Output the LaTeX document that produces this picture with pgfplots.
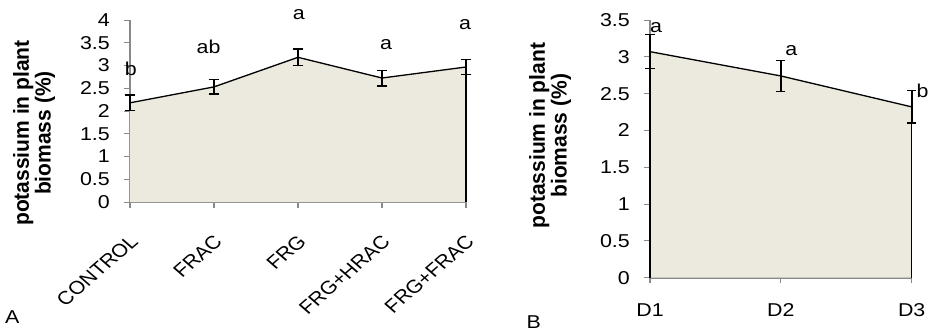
\documentclass[border=0pt]{standalone}
\usepackage{pgfplots}
\pgfplotsset{compat=1.18}
\usepackage{fontspec}
\setmainfont{Liberation Sans}
\definecolor{areafill}{RGB}{236,233,223}
\definecolor{axisgray}{RGB}{137,137,137}
\pgfplotsset{
  kstyle/.style={
    scale only axis, axis lines=left, anchor=south west, clip=false,
    axis line style={axisgray, line width=1.6pt, -},
    tick style={axisgray, line width=0.9pt},
    tick align=outside, major tick length=5.5pt,
    /pgf/number format/assume math mode=true,
    tick label style={font=\fontsize{18.6}{20}\selectfont, text=black},
  }
}
\begin{document}
\begin{tikzpicture}[x=1pt,y=1pt]
\begin{scope}[transform canvas={xscale=1.15}]
% ---------- panel A ----------
\begin{axis}[kstyle,
  at={(113.04pt,131pt)}, width=292.17pt, height=182pt,
  xmin=0, xmax=4, ymin=0, ymax=4,
  xtick={0,1,2,3,4},
  xticklabels={CONTROL,FRAC,FRG,FRG+HRAC,FRG+FRAC},
  ytick={0,0.5,1,1.5,2,2.5,3,3.5,4},
  yticklabel style={anchor=east, inner sep=0pt, xshift=-11.9pt},
  xticklabel style={xshift=-1pt, yshift=-25.8pt, rotate=45, anchor=north east, inner sep=0pt},
  ylabel={potassium in plant\\biomass (\%)},
  every axis y label/.style={at={(axis description cs:-0.2856,0.379)}, rotate=90, yscale=0.9, anchor=center, align=center, font=\bfseries\fontsize{21}{21}\selectfont},
]
\addplot[fill=areafill, draw=none] coordinates {(0,2.18) (1,2.53) (2,3.18) (3,2.725) (4,2.967)} \closedcycle;
\addplot[black, line width=1.2pt] coordinates {(4,0) (4,2.967)};
\addplot[black, line width=1.3pt, mark=none,
  error bars/.cd, y dir=both, y explicit,
  error bar style={black, line width=1.5pt},
  error mark options={rotate=90, black, mark size=4.6pt, line width=1.5pt}]
  coordinates {(0,2.18) +- (0,0.17) (1,2.53) +- (0,0.16) (2,3.18) +- (0,0.18) (3,2.725) +- (0,0.17) (4,2.967) +- (0,0.16)};
\node[font=\fontsize{18.6}{20}\selectfont] at (axis cs:0.01,2.92) {b};
\node[font=\fontsize{18.6}{20}\selectfont] at (axis cs:0.935,3.41) {ab};
\node[font=\fontsize{18.6}{20}\selectfont] at (axis cs:2.01,4.127) {a};
\node[font=\fontsize{18.6}{20}\selectfont] at (axis cs:3.05,3.47) {a};
\node[font=\fontsize{18.6}{20}\selectfont] at (axis cs:3.99,3.89) {a};
\end{axis}
% ---------- panel B ----------
\begin{axis}[kstyle,
  at={(565.22pt,55.3pt)}, width=227.57pt, height=257.7pt,
  xmin=0, xmax=2, ymin=0, ymax=3.5,
  xtick={0,1,2},
  xticklabels={D1,D2,D3},
  ytick={0,0.5,1,1.5,2,2.5,3,3.5},
  yticklabel style={anchor=east, inner sep=0pt, xshift=-11.9pt},
  xticklabel style={anchor=north, inner sep=0pt, yshift=-20.3pt},
  ylabel={potassium in plant\\biomass (\%)},
  every axis y label/.style={at={(axis description cs:-0.382,0.551)}, rotate=90, yscale=0.9, anchor=center, align=center, font=\bfseries\fontsize{21}{21}\selectfont},
]
\addplot[fill=areafill, draw=none] coordinates {(0,3.07) (1,2.74) (2,2.32)} \closedcycle;
\addplot[black, line width=1.2pt] coordinates {(0,0) (0,3.07)};
\addplot[black, line width=1.2pt] coordinates {(2,0) (2,2.32)};
\addplot[black, line width=1.3pt, mark=none,
  error bars/.cd, y dir=both, y explicit,
  error bar style={black, line width=1.5pt},
  error mark options={rotate=90, black, mark size=4pt, line width=1.5pt}]
  coordinates {(0,3.07) +- (0,0.23) (1,2.74) +- (0,0.21) (2,2.32) +- (0,0.22)};
\node[font=\fontsize{18.6}{20}\selectfont] at (axis cs:0.046,3.40) {a};
\node[font=\fontsize{18.6}{20}\selectfont] at (axis cs:1.08,3.09) {a};
\node[font=\fontsize{18.6}{20}\selectfont] at (axis cs:2.083,2.54) {b};
\end{axis}
\node[font=\fontsize{18.6}{20}\selectfont] at (10.6,16.3) {A};
\node[font=\fontsize{18.6}{20}\selectfont] at (464.1,11.3) {B};
\end{scope}
\pgfresetboundingbox
\useasboundingbox (0,0) rectangle (929,333);
\end{tikzpicture}
\end{document}
